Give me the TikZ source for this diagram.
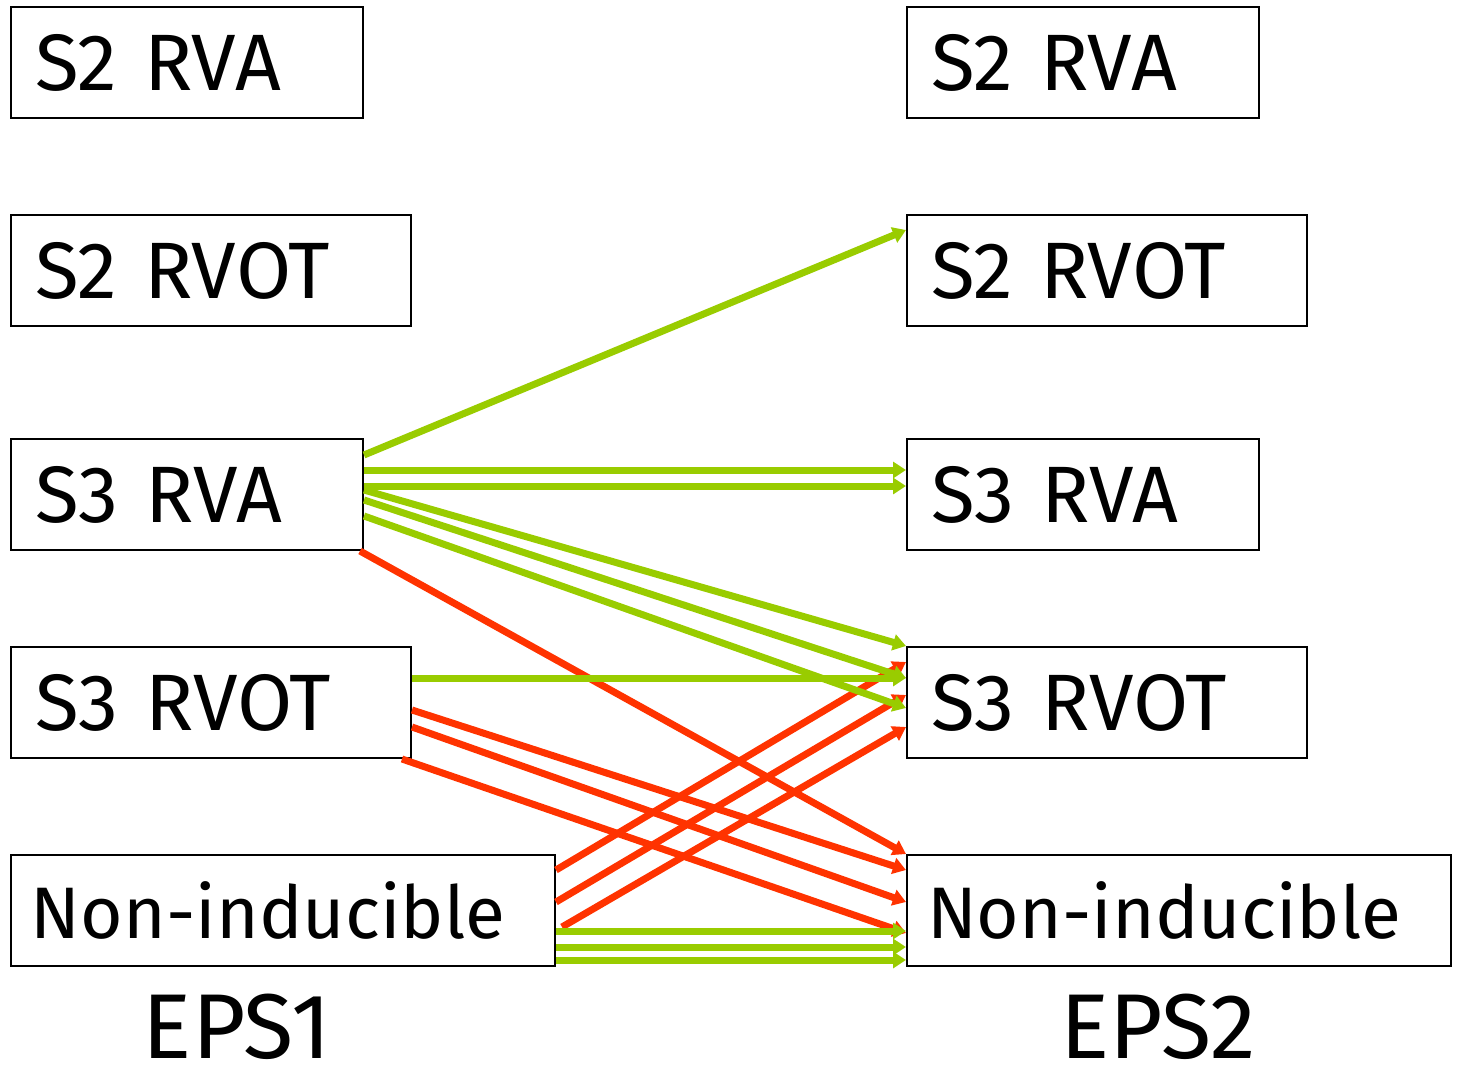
\documentclass[tikz,border=0pt]{standalone}
\usepackage{fontspec}
\setmainfont{Fira Sans}
\usetikzlibrary{arrows.meta}
\definecolor{lime}{RGB}{153,204,0}
\definecolor{scarlet}{RGB}{255,51,0}

\begin{document}
\begin{tikzpicture}[x=1pt,y=1pt,
  box/.style={draw=black, line width=1pt, anchor=north west,
    minimum height=55.5pt, inner xsep=12pt, inner ysep=0pt, align=left,
    font=\fontsize{40}{40}\selectfont},
  narrowbox/.style={box, text width=152pt},
  widebox/.style={box, text width=176pt},
  longbox/.style={box, inner xsep=10pt, text width=252pt,
    font=\fontsize{36.5}{40}\selectfont},
  caption/.style={font=\fontsize{46}{46}\selectfont, anchor=base, inner sep=0pt},
  link/.style={line width=3.5pt, -{Triangle[length=6.5pt,width=8pt]}},
  yes/.style={link, draw=lime, fill=lime},
  no/.style={link, draw=scarlet, fill=scarlet}]

\useasboundingbox (0,0) rectangle (728.5,-535.5);

% EPS1 column
\node[narrowbox] (l1) at (5,-3)   {S2 RVA};
\node[widebox]   (l2) at (5,-107) {S2 RVOT};
\node[narrowbox] (l3) at (5,-219) {S3 RVA};
\node[widebox]   (l4) at (5,-323) {S3 RVOT};
\node[longbox]   (l5) at (5,-427) {\mbox{Non-inducible}};
\node[caption]   (c1) at (118.5,-529) {EPS1};

% EPS2 column
\node[narrowbox] (r1) at (453,-3)   {S2 RVA};
\node[widebox]   (r2) at (453,-107) {S2 RVOT};
\node[narrowbox] (r3) at (453,-219) {S3 RVA};
\node[widebox]   (r4) at (453,-323) {S3 RVOT};
\node[longbox]   (r5) at (453,-427) {\mbox{Non-inducible}};
\node[caption]   (c2) at (579,-529) {EPS2};

% transitions to a worse state
\draw[no] ([xshift=-2pt]l3.south east) -- (r5.north west);
\draw[no] ([yshift=-32pt]l4.north east) -- ([yshift=-8pt]r5.north west);
\draw[no] ([yshift=-40.5pt]l4.north east) -- ([yshift=-24pt]r5.north west);
\draw[no] ([xshift=-5pt]l4.south east) -- ([yshift=-39.5pt]r5.north west);
\draw[no] ([yshift=-8pt]l5.north east) -- ([yshift=-8pt]r4.north west);
\draw[no] ([yshift=-24pt]l5.north east) -- ([yshift=-24.5pt]r4.north west);
\draw[no] ([xshift=3pt,yshift=-36.5pt]l5.north east) -- ([yshift=-40.5pt]r4.north west);

% transitions to an equal or better state
\draw[yes] ([yshift=-8.5pt]l3.north east) -- ([yshift=-8pt]r2.north west);
\draw[yes] ([yshift=-16pt]l3.north east) -- ([yshift=-16pt]r3.north west);
\draw[yes] ([yshift=-24pt]l3.north east) -- ([yshift=-24pt]r3.north west);
\draw[yes] ([yshift=-26pt]l3.north east) -- ([yshift=0pt]r4.north west);
\draw[yes] ([yshift=-31pt]l3.north east) -- ([yshift=-16pt]r4.north west);
\draw[yes] ([yshift=-39pt]l3.north east) -- ([yshift=-31pt]r4.north west);
\draw[yes] ([yshift=-16pt]l4.north east) -- ([yshift=-16pt]r4.north west);
\draw[yes] ([yshift=-38.5pt]l5.north east) -- ([yshift=-38.5pt]r5.north west);
\draw[yes] ([yshift=-46.5pt]l5.north east) -- ([yshift=-46.5pt]r5.north west);
\draw[yes] ([yshift=-53pt]l5.north east) -- ([yshift=-53pt]r5.north west);
\end{tikzpicture}
\end{document}
